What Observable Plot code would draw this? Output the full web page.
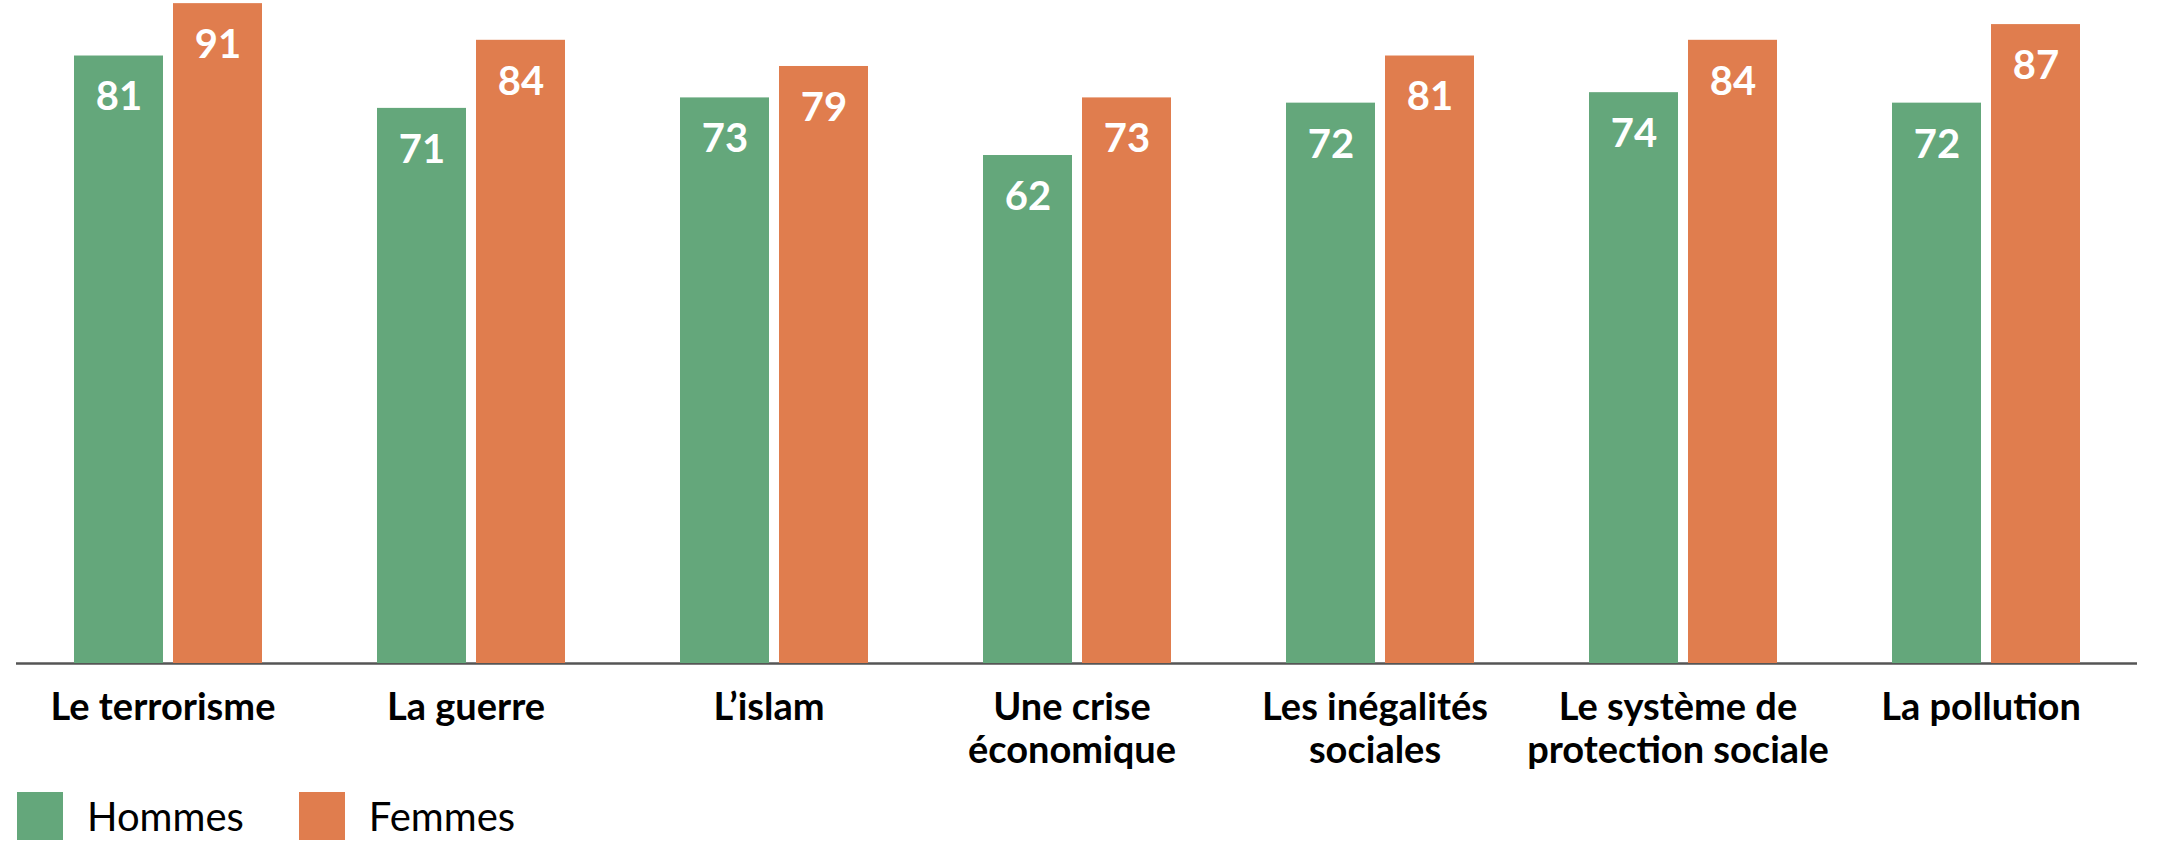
<!DOCTYPE html>
<html>
<head>
<meta charset="utf-8">
<script src="https://cdn.jsdelivr.net/npm/d3@7"></script>
<script src="https://cdn.jsdelivr.net/npm/@observablehq/plot@0.6"></script>
<style>
  html, body { margin: 0; padding: 0; background: #fff; }
  body { width: 2182px; height: 858px; overflow: hidden; font-family: Lato, "Noto Sans", sans-serif; }
  #chart svg { display: block; }
  .legend { display: flex; align-items: center; padding-left: 17px; padding-top: 17px; font-family: Lato, sans-serif; font-size: 40px; color: #000; }
  .legend .item { display: flex; align-items: center; margin-right: 55px; }
  .legend .sw { width: 46px; height: 48px; margin-right: 24px; }
</style>
</head>
<body>
<div id="chart"></div>
<div class="legend" id="legend"></div>
<script>
const categories = [
  "Le terrorisme",
  "La guerre",
  "L’islam",
  "Une crise\néconomique",
  "Les inégalités\nsociales",
  "Le système de\nprotection sociale",
  "La pollution"
];
const series = ["Hommes", "Femmes"];
const hommes = [81, 71, 73, 62, 72, 74, 72];
const femmes = [91, 84, 79, 73, 81, 84, 87];
const colors = ["#64a77b", "#e07d4e"];
const Y_FLOOR = -35;
const Y_CEIL = 91.6;

const rows = [];
categories.forEach((c, i) => {
  rows.push({cat: c, sex: series[0], value: hommes[i]});
  rows.push({cat: c, sex: series[1], value: femmes[i]});
});

const chart = Plot.plot({
  width: 2182,
  height: 775,
  marginTop: 0,
  marginBottom: 112,
  marginLeft: 21,
  marginRight: 51,
  style: {fontFamily: "Lato, sans-serif", background: "#fff"},
  fx: {domain: categories, paddingInner: 0.3776, paddingOuter: 0.17, axis: null},
  x: {domain: series, paddingInner: 0.105, paddingOuter: 0, axis: null},
  y: {domain: [Y_FLOOR, Y_CEIL], axis: null},
  color: {domain: series, range: colors},
  marks: [
    Plot.ruleY([Y_FLOOR], {stroke: "#555", strokeWidth: 2.5, insetLeft: -57, insetRight: -57}),
    Plot.barY(rows, {fx: "cat", x: "sex", y1: Y_FLOOR, y2: "value", fill: "sex"}),
    Plot.text(rows, {
      fx: "cat", x: "sex", y: "value", text: d => String(d.value),
      fill: "#fff", fontSize: 40, fontWeight: 700, lineAnchor: "top", dy: 26
    }),
    Plot.axisFx({
      anchor: "bottom", tickSize: 0, tickPadding: 26, label: null,
      fontSize: 38, fontWeight: 700, lineHeight: 1.13, fill: "#000", dx: -5
    })
  ]
});
document.getElementById("chart").appendChild(chart);

const legend = document.getElementById("legend");
series.forEach((s, i) => {
  const item = document.createElement("div");
  item.className = "item";
  const sw = document.createElement("div");
  sw.className = "sw";
  sw.style.background = colors[i];
  const t = document.createElement("span");
  t.textContent = s;
  item.appendChild(sw);
  item.appendChild(t);
  legend.appendChild(item);
});
</script>
</body>
</html>
